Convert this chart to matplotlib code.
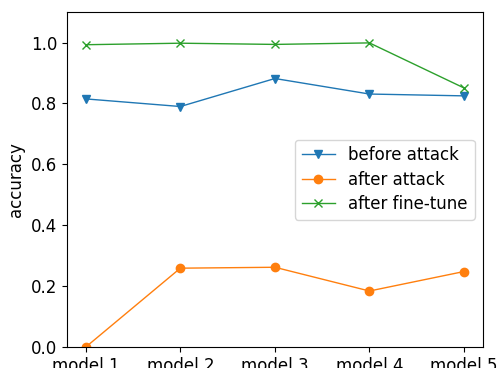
import matplotlib
matplotlib.use("Agg")
import matplotlib.pyplot as plt

models = ["model 1", "model 2", "model 3", "model 4", "model 5"]
before_attack = [0.815, 0.790, 0.882, 0.831, 0.825]
after_attack = [0.0, 0.259, 0.262, 0.184, 0.248]
after_finetune = [0.993, 0.998, 0.994, 0.999, 0.851]

fig = plt.figure(figsize=(5.03, 3.68), dpi=100)
ax = fig.add_axes([0.133, 0.057, 0.827, 0.910])

x = range(len(models))
ax.plot(x, before_attack, marker='v', linewidth=1, label='before attack')
ax.plot(x, after_attack, marker='o', linewidth=1, label='after attack')
ax.plot(x, after_finetune, marker='x', linewidth=1, label='after fine-tune')

ax.set_ylim(0, 1.1)
ax.set_xticks(list(x))
ax.set_xticklabels(models, fontsize=12)
ax.tick_params(axis='y', labelsize=12)
ax.set_ylabel("accuracy", fontsize=12)
ax.legend(loc='center right', fontsize=12, labelspacing=0.38)

fig.savefig("out.png", dpi=100)
